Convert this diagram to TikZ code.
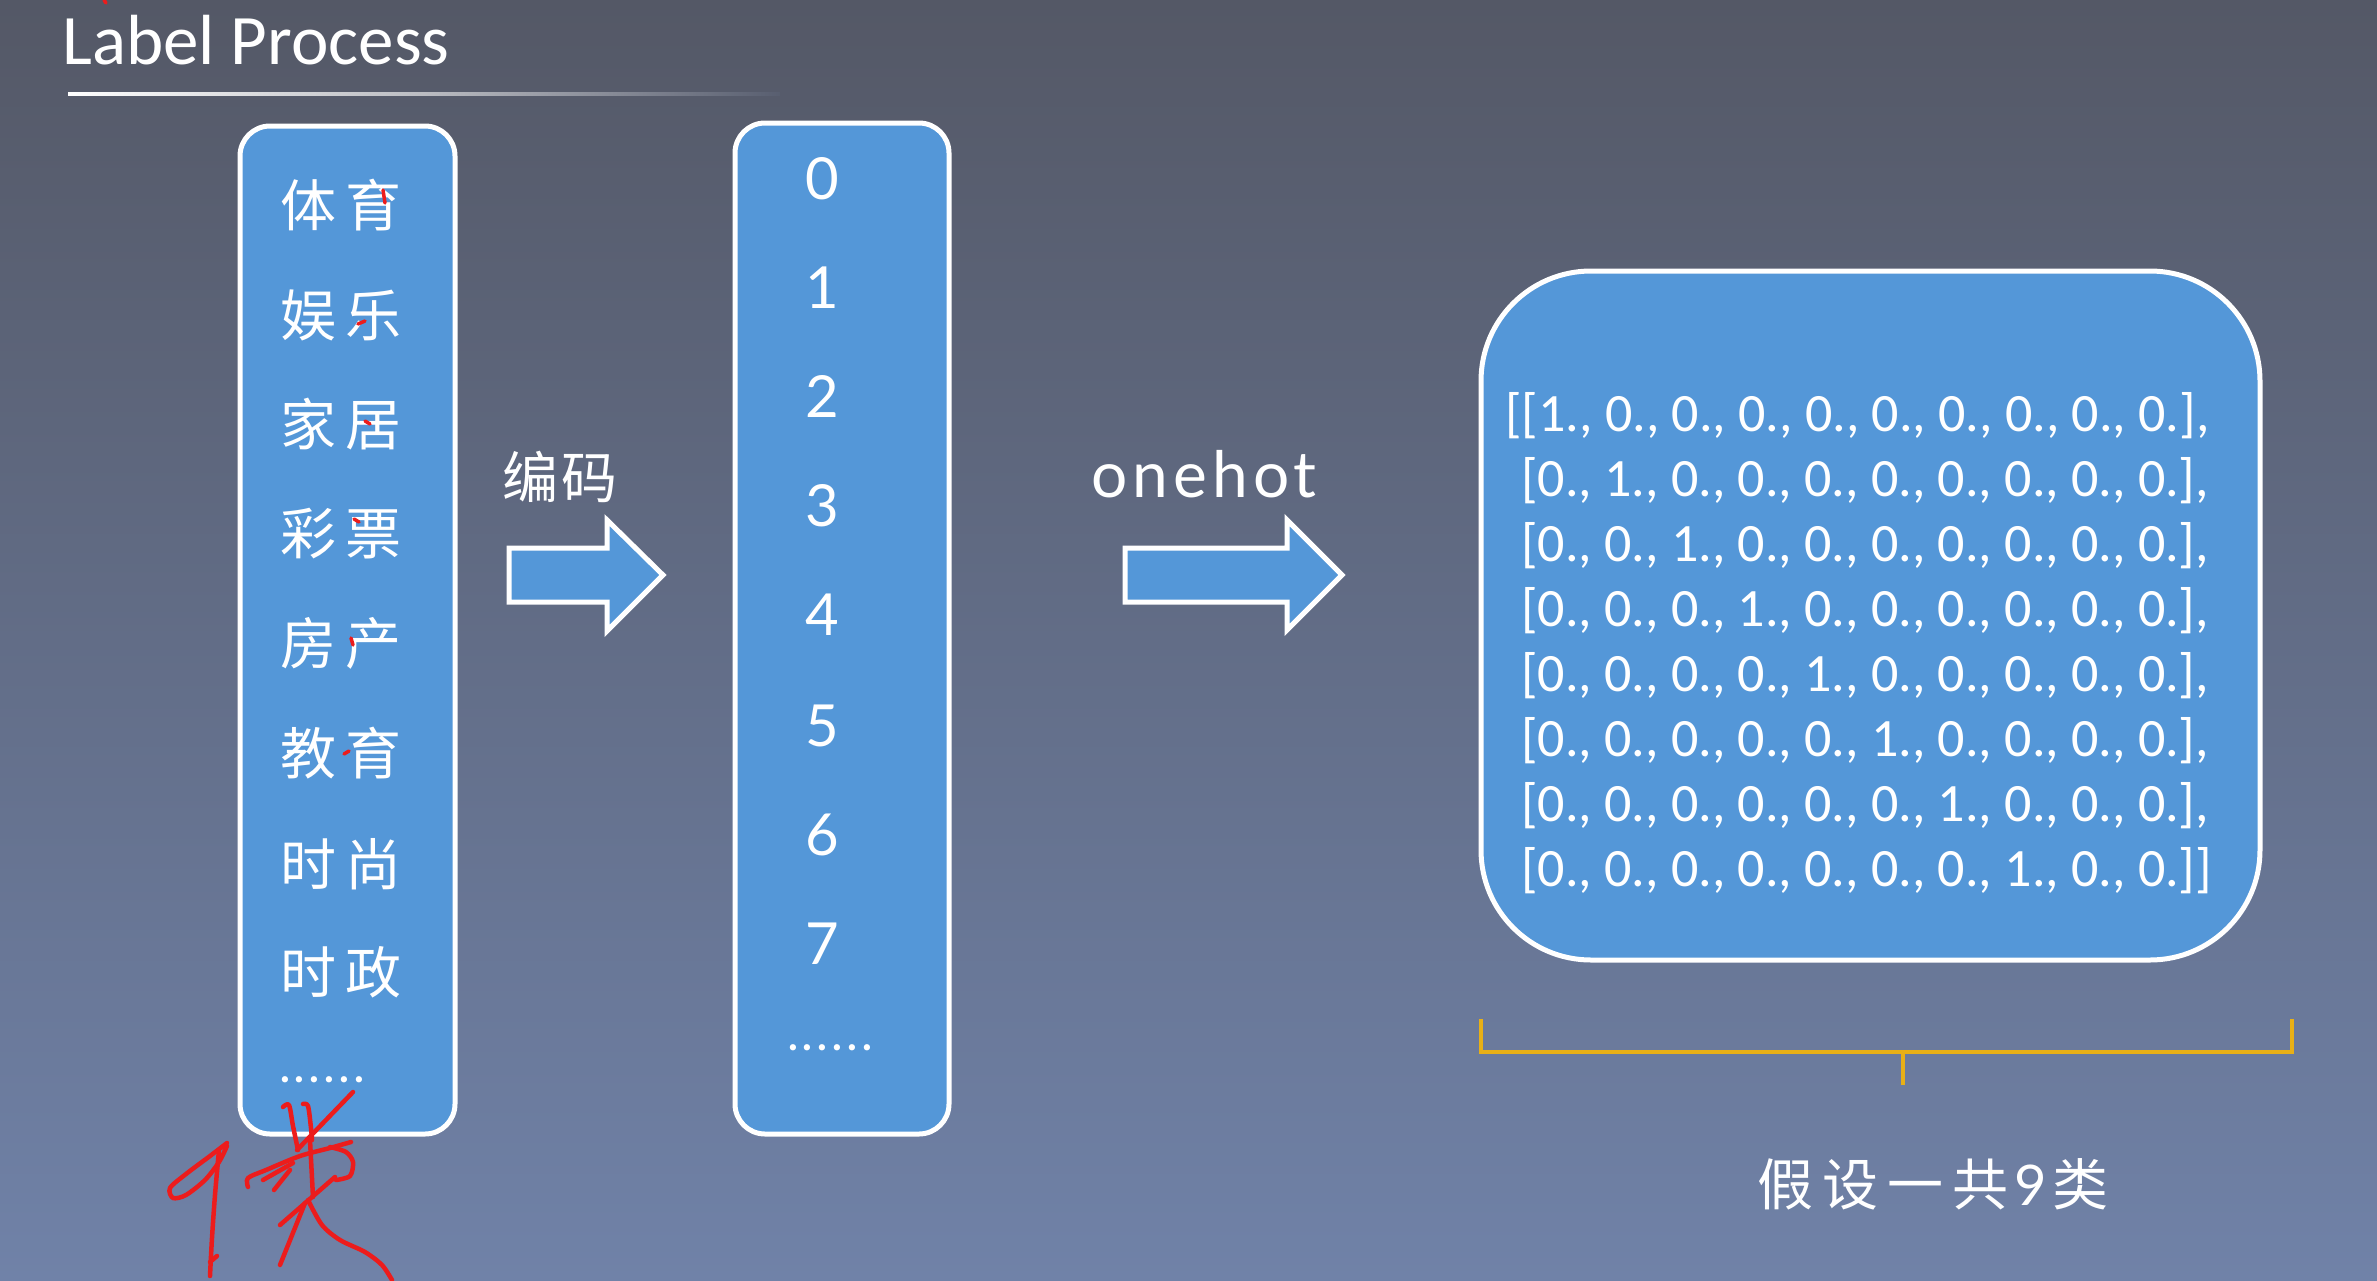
\documentclass[tikz,border=0pt]{standalone}
\usepackage{fontspec}
\newfontfamily\cjkfont{Noto Sans CJK SC}
\newfontfamily\calfont{Carlito}
\newfontfamily\geofont[LetterSpace=8]{Lato}
\newfontfamily\digfont{Lato}
\definecolor{bgtop}{RGB}{84,88,102}
\definecolor{bgbot}{RGB}{112,130,168}
\definecolor{boxblue}{RGB}{84,151,216}
\definecolor{gold}{RGB}{232,176,22}
\definecolor{pen}{RGB}{236,28,28}
\tikzset{
  colbox/.style={draw=white, line width=5pt, fill=boxblue, rounded corners=30pt, inner sep=0pt},
  bigbox/.style={draw=white, line width=5pt, fill=boxblue, rounded corners=110pt, inner sep=0pt},
  cjk/.style={text=white, inner sep=0pt, font=\cjkfont\fontsize{56}{60}\selectfont},
  dig/.style={text=white, inner sep=0pt, anchor=base, font=\digfont\fontsize{58}{60}\selectfont},
  dots/.style={text=white, inner sep=0pt, anchor=base, font=\digfont\fontsize{50}{60}\selectfont},
  mat/.style={text=white, inner sep=0pt, anchor=base west, font=\calfont\fontsize{54}{60}\selectfont},
  blockarrow/.style={draw=white, line width=5pt, fill=boxblue, line join=miter},
  scribble/.style={draw=pen, line width=4.5pt, line cap=round, line join=round},
}
\begin{document}
\begin{tikzpicture}[x=1pt,y=-1pt]
\useasboundingbox (0,0) rectangle (2377,1280);
\shade[top color=bgtop, bottom color=bgbot] (0,0) rectangle (2377,1280);

% title
\node[text=white, inner sep=0pt, anchor=base west, font=\calfont\fontsize{71}{80}\selectfont] (title) at (62,64) {Label Process};
\shade[left color=white, right color=bgtop!85!bgbot, middle color=white!60!bgtop] (68,92) rectangle (780,95.5);

% left column box
\node[colbox, minimum width=215pt, minimum height=1008pt] (labels) at (347.5,630) {};
\node[cjk] (l1) at (341,205) {体\hspace{10pt}育};
\node[cjk] (l2) at (341,315) {娱\hspace{10pt}乐};
\node[cjk] (l3) at (341,424) {家\hspace{10pt}居};
\node[cjk] (l4) at (341,534) {彩\hspace{10pt}票};
\node[cjk] (l5) at (341,643) {房\hspace{10pt}产};
\node[cjk] (l6) at (341,753) {教\hspace{10pt}育};
\node[cjk] (l7) at (341,864) {时\hspace{10pt}尚};
\node[cjk] (l8) at (341,972) {时\hspace{10pt}政};
\node[dots] (l9) at (322,1082) {.\hspace{3pt}.\hspace{3pt}.\hspace{3pt}.\hspace{3pt}.\hspace{3pt}.};

% middle column box
\node[colbox, minimum width=214pt, minimum height=1011pt] (codes) at (842,628.5) {};
\node[dig] (c0) at (822,199) {0};
\node[dig] (c1) at (822,308) {1};
\node[dig] (c2) at (822,417) {2};
\node[dig] (c3) at (822,526) {3};
\node[dig] (c4) at (822,635) {4};
\node[dig] (c5) at (822,746) {5};
\node[dig] (c6) at (822,855) {6};
\node[dig] (c7) at (822,964) {7};
\node[dots] (c8) at (830,1050) {.\hspace{3pt}.\hspace{3pt}.\hspace{3pt}.\hspace{3pt}.\hspace{3pt}.};

% encoding arrow
\node[cjk] (enc) at (560,477) {编\hspace{4pt}码};
\coordinate (a1t) at (663,575);
\draw[blockarrow] (509,548) -- (607,548) -- (607,520) -- (a1t) -- (607,631) -- (607,602) -- (509,602) -- cycle;

% onehot arrow
\node[text=white, inner sep=0pt, anchor=base, font=\geofont\fontsize{64}{70}\selectfont] (oh) at (1204,497) {onehot};
\coordinate (a2t) at (1342,575);
\draw[blockarrow] (1125,548) -- (1287,548) -- (1287,520) -- (a2t) -- (1287,630) -- (1287,602) -- (1125,602) -- cycle;

% matrix box
\node[bigbox, minimum width=779pt, minimum height=689pt] (matbox) at (1870.5,615.5) {};
\node[mat] (m1) at (1505,431) {[[1., 0., 0., 0., 0., 0., 0., 0., 0., 0.],};
\node[mat] (m2) at (1521,496) {[0., 1., 0., 0., 0., 0., 0., 0., 0., 0.],};
\node[mat] (m3) at (1521,561) {[0., 0., 1., 0., 0., 0., 0., 0., 0., 0.],};
\node[mat] (m4) at (1521,626) {[0., 0., 0., 1., 0., 0., 0., 0., 0., 0.],};
\node[mat] (m5) at (1521,691) {[0., 0., 0., 0., 1., 0., 0., 0., 0., 0.],};
\node[mat] (m6) at (1521,756) {[0., 0., 0., 0., 0., 1., 0., 0., 0., 0.],};
\node[mat] (m7) at (1521,821) {[0., 0., 0., 0., 0., 0., 1., 0., 0., 0.],};
\node[mat] (m8) at (1521,886) {[0., 0., 0., 0., 0., 0., 0., 1., 0., 0.]]};

% bracket
\coordinate (bl) at (1481,1019);
\coordinate (br) at (2292,1019);
\coordinate (bm) at (1903,1052);
\coordinate (bt) at (1903,1085);
\draw[gold, line width=4.5pt, line cap=butt] (bl) -- (1481,1052) -- (2292,1052) -- (br);
\draw[gold, line width=4.5pt] (bm) -- (bt);
\node[cjk] (total) at (1933,1184) {假\hspace{9pt}设\hspace{9pt}一\hspace{9pt}共\hspace{6pt}{\digfont 9}\hspace{6pt}类};

% red handwritten annotations
\draw[scribble] plot[smooth] coordinates {(227,1143) (210,1156) (186,1174) (170,1188) (173,1198) (186,1195) (205,1180) (219,1162) (227,1146)};
\draw[scribble] plot[smooth] coordinates {(219,1150) (215,1195) (212,1238) (210,1276)};
\draw[scribble] (210,1262) -- (217,1256);
\draw[scribble] plot[smooth] coordinates {(283,1107) (289,1105) (293,1126) (298,1150)};
\draw[scribble] plot[smooth] coordinates {(303,1104) (308,1106) (311,1128) (312,1140)};
\draw[scribble] (353,1092) -- (297,1150);
\draw[scribble] plot[smooth] coordinates {(248,1187) (248,1178) (266,1170) (300,1156) (330,1148) (351,1142)};
\draw[scribble] (263,1180) -- (293,1163);
\draw[scribble] (274,1190) -- (290,1170);
\draw[scribble] plot[smooth] coordinates {(330,1147) (346,1152) (353,1162) (350,1176) (336,1180)};
\draw[scribble] (310,1140) -- (313,1197);
\draw[scribble] (280,1225) -- (335,1177);
\draw[scribble] (305,1203) -- (280,1265);
\draw[scribble] plot[smooth] coordinates {(308,1200) (322,1225) (340,1240) (365,1252) (382,1265) (392,1280)};
\begin{scope}[draw=pen, line width=3.5pt, line cap=round]
\draw (383,190) -- (385,203);
\draw (358,324) -- (365,321);
\draw (365,421) -- (370,424);
\draw (354,519) -- (359,522);
\draw (351,638) -- (353,645);
\draw (344,754) -- (349,751);
\draw (104,0) -- (106,3);
\end{scope}
\end{tikzpicture}
\end{document}
